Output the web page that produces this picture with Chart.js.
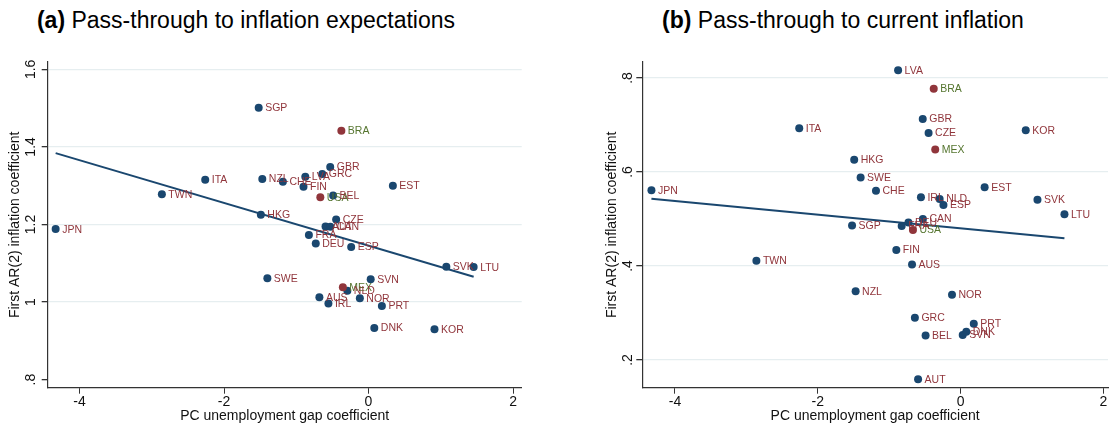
<!DOCTYPE html>
<html>
<head>
<meta charset="utf-8">
<script src="https://cdn.jsdelivr.net/npm/chart.js@4.4.0/dist/chart.umd.min.js"></script>
<style>
  body { margin:0; width:1112px; height:428px; overflow:hidden; background:#fff; position:relative;
         font-family:"Liberation Sans", Arial, sans-serif; }
  .ttl { position:absolute; top:9px; font-size:23px; line-height:23px; color:#000; white-space:nowrap;
         transform:translateX(-50%); }
  canvas { position:absolute; top:0; }
</style>
</head>
<body>
<div class="ttl" style="left:246px"><b>(a)</b> Pass-through to inflation expectations</div>
<div class="ttl" style="left:843px"><b>(b)</b> Pass-through to current inflation</div>
<canvas id="chartA" width="556" height="428" style="left:0"></canvas>
<canvas id="chartB" width="556" height="428" style="left:556px"></canvas>
<script>
// navy group
var countries = ['JPN','TWN','ITA','SGP','NZL','HKG','GBR','LVA','GRC','CHE','FIN','EST','BEL','CZE','AUT',
                 'CAN','FRA','DEU','ESP','SVK','LTU','SWE','SVN','NLD','AUS','IRL','NOR','PRT','DNK','KOR'];
var gapCoef = [-4.33,-2.86,-2.26,-1.52,-1.47,-1.49,-0.53,-0.875,-0.64,-1.185,-0.90,0.337,-0.49,-0.448,-0.595,
               -0.528,-0.825,-0.73,-0.24,1.077,1.455,-1.40,0.03,-0.293,-0.68,-0.555,-0.12,0.185,0.08,0.913];
var expCoef = [1.188,1.278,1.315,1.501,1.317,1.225,1.348,1.323,1.330,1.310,1.297,1.300,1.275,1.213,1.195,
               1.194,1.173,1.151,1.142,1.091,1.090,1.061,1.059,1.029,1.012,0.996,1.010,0.990,0.933,0.930];
var curCoef = [0.561,0.411,0.693,0.486,0.346,0.626,0.7125,0.8166,0.290,0.560,0.434,0.5675,0.252,0.683,0.159,
               0.500,0.4853,0.4924,0.530,0.541,0.510,0.588,0.2533,0.5427,0.403,0.546,0.339,0.2773,0.260,0.689];

// maroon group
var redCountries = ['BRA','USA','MEX'];
var redGap = [-0.376,-0.667,-0.355];
var redExp = [1.442,1.270,1.038];
var redCur = [0.777,0.4768,0.648];

// fitted lines
var fitGap = [-4.33, 1.455];
var fitExp = [1.384, 1.065];
var fitCur = [0.543, 0.459];

var xTicks = [-4,-2,0,2];
var yTicksA = [0.8,1,1.2,1.4,1.6];
var yLabelsA = ['.8','1','1.2','1.4','1.6'];
var yTicksB = [0.2,0.4,0.6,0.8];
var yLabelsB = ['.2','.4','.6','.8'];

var navy = '#1a476f', maroon = '#90353b', green = '#55752f';
Chart.defaults.font.family = '"Liberation Sans", Arial, sans-serif';
Chart.defaults.color = '#111';

function pts(xs, ys){ return xs.map((x,i)=>({x:x, y:ys[i]})) }

// country codes to the right of each marker
var pointLabels = {
  id: 'pointLabels',
  afterDatasetsDraw(chart){
    let ctx = chart.ctx
    ctx.save()
    ctx.font = '10.5px "Liberation Sans", Arial, sans-serif'
    ctx.textBaseline = 'middle'
    ctx.textAlign = 'left'
    chart.data.datasets.forEach((ds,i)=>{
      if(!ds.names) return
      ctx.fillStyle = ds.labelColor
      chart.getDatasetMeta(i).data.forEach((el,j)=>{
        ctx.fillText(ds.names[j], el.x + 6.5, el.y + 0.5)
      })
    })
    ctx.restore()
  }
}

function makeChart(id, o){
  return new Chart(document.getElementById(id).getContext('2d'), {
    type: 'scatter',
    data: {
      datasets: [
        { data: pts(fitGap, o.fit), type:'line', showLine:true, borderColor:navy, borderWidth:2,
          pointRadius:0, fill:false, order:1 },
        { data: pts(redGap, o.red), names: redCountries, labelColor: green,
          backgroundColor: maroon, borderWidth:0, pointRadius:4, order:2 },
        { data: pts(gapCoef, o.main), names: countries, labelColor: maroon,
          backgroundColor: navy, borderWidth:0, pointRadius:4, order:3 }
      ]
    },
    options: {
      responsive:false, animation:false, devicePixelRatio:1,
      layout: { padding: { left:o.padLeft, top:62, right:o.padRight, bottom:0 } },
      plugins: { legend:{display:false}, tooltip:{enabled:false} },
      scales: {
        x: {
          type:'linear', min:o.xMin, max:o.xMax,
          afterBuildTicks: s => { s.ticks = xTicks.map(v=>({value:v})) },
          afterFit: s => { s.height = 40.3; s.paddingLeft = 0; s.paddingRight = 0 },
          ticks: { font:{size:14}, padding:0, maxRotation:0, color:'#111' },
          grid: { drawOnChartArea:false, tickLength:6, tickColor:'#333', tickWidth:1 },
          border: { color:'#333', width:1.2 },
          title: { display:true, text:'PC unemployment gap coefficient', font:{size:14},
                   padding:{top:0, bottom:3}, color:'#111' }
        },
        y: {
          type:'linear', min:o.yMin, max:o.yMax,
          afterBuildTicks: s => { s.ticks = o.yTicks.map(v=>({value:v})) },
          afterFit: s => { s.width = 47.7; s.paddingTop = 0; s.paddingBottom = 0 },
          ticks: { font:{size:14}, padding:o.tickPad, minRotation:90, maxRotation:90, crossAlign:'center',
                   color:'#111',
                   callback: (v) => o.yLabels[o.yTicks.findIndex(t=>Math.abs(t-v)<1e-9)] },
          grid: { tickLength:6, tickColor:'#333', lineWidth:1.3,
                  color: c => (c.tick && o.noGrid.includes(c.tick.value)) ? 'rgba(0,0,0,0)' : '#e6eef0' },
          border: { color:'#333', width:1.2 },
          title: { display:true, text:'First AR(2) inflation coefficient', font:{size:14},
                   padding:{top:o.titlePad, bottom:0}, color:'#111' }
        }
      }
    },
    plugins: [pointLabels]
  })
}

makeChart('chartA', {
  main: expCoef, red: redExp, fit: fitExp,
  xMin:-4.44, xMax:2.12, yMin:0.779, yMax:1.619,
  yTicks:yTicksA, yLabels:yLabelsA, noGrid:[0.8],
  padLeft:0, padRight:34.3, tickPad:1, titlePad:6.6
})

makeChart('chartB', {
  main: curCoef, red: redCur, fit: fitCur,
  xMin:-4.458, xMax:2.065, yMin:0.141, yMax:0.834,
  yTicks:yTicksB, yLabels:yLabelsB, noGrid:[],
  padLeft:38.6, padRight:0, tickPad:2, titlePad:8.7
})
</script>
</body>
</html>
